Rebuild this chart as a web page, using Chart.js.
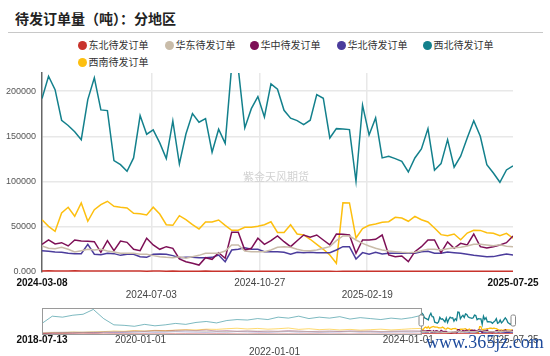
<!DOCTYPE html>
<html><head><meta charset="utf-8">
<script src="https://cdn.jsdelivr.net/npm/chart.js@4/dist/chart.umd.min.js"></script>
<style>
body{margin:0;background:#fff;}
#wrap{position:relative;width:550px;height:356px;overflow:hidden;font-family:"Noto Sans CJK SC","Noto Sans",sans-serif;}
#title{position:absolute;left:15px;top:8px;font-size:14px;font-weight:bold;color:#222;line-height:20px;white-space:nowrap;}
#rule{position:absolute;left:8px;top:32px;width:535px;height:1px;background:#c8c8c8;}
.lg{position:absolute;font-size:10px;color:#333;line-height:12px;white-space:nowrap;}
.lg i{display:inline-block;width:9px;height:9px;border-radius:50%;vertical-align:-1px;margin-right:2px;}
canvas{position:absolute;left:0;}
#main{top:0;}
#nav{top:300px;}
#wm1{position:absolute;left:243px;top:168px;font-size:11px;color:#d2d2d2;white-space:nowrap;}
#wm2{position:absolute;left:426px;top:332px;font-size:18px;color:#1d4a9c;font-family:"Liberation Serif",serif;white-space:nowrap;}
</style></head>
<body>
<div id="wrap">
<div id="title">待发订单量（吨）：分地区</div>
<div id="rule"></div>
<div id="legend"></div>
<canvas id="main" width="550" height="302"></canvas>
<canvas id="nav" width="550" height="56"></canvas>
<div id="wm1">紫金天风期货</div>
<div id="wm2">www.365jz.com</div>
</div>
<script>
// ---- categories (weekly dates) ----
const weeks = ["2024-03-08","2024-03-15","2024-03-22","2024-03-29","2024-04-05","2024-04-12","2024-04-19","2024-04-26",
"2024-05-03","2024-05-10","2024-05-17","2024-05-24","2024-05-31","2024-06-07","2024-06-14","2024-06-21","2024-06-28",
"2024-07-05","2024-07-12","2024-07-19","2024-07-26","2024-08-02","2024-08-09","2024-08-16","2024-08-23","2024-08-30",
"2024-09-06","2024-09-13","2024-09-20","2024-09-27","2024-10-04","2024-10-11","2024-10-18","2024-10-25",
"2024-11-01","2024-11-08","2024-11-15","2024-11-22","2024-11-29","2024-12-06","2024-12-13","2024-12-20","2024-12-27",
"2025-01-03","2025-01-10","2025-01-17","2025-01-24","2025-01-31","2025-02-07","2025-02-14","2025-02-21","2025-02-28",
"2025-03-07","2025-03-14","2025-03-21","2025-03-28","2025-04-04","2025-04-11","2025-04-18","2025-04-25",
"2025-05-02","2025-05-09","2025-05-16","2025-05-23","2025-05-30","2025-06-06","2025-06-13","2025-06-20","2025-06-27",
"2025-07-04","2025-07-11","2025-07-18","2025-07-25"];

// ---- series values (tons) ----
const northeast = [1200,1300,1200,1100,1200,1300,1200,1100,1000,1100,1200,1100,1000,1000,1100,1000,900,1000,1000,900,1000,900,900,800,900,1000,900,900,800,900,1000,900,800,900,900,800,900,800,800,900,800,800,700,800,700,600,800,900,700,800,800,900,800,700,800,800,900,800,700,800,800,700,800,800,700,800,700,800,800,700,800,800,700];
const eastChina = [28800,26200,25800,27300,25100,22100,23600,25100,24300,25100,23200,22100,20700,20700,20700,19600,19600,18100,16900,16200,15800,16900,15200,16900,18400,20700,20700,20700,23200,29900,29900,23200,22500,22500,22500,24300,27300,28000,27300,25100,23600,23600,24300,26200,28000,34600,39800,39800,35400,31700,28800,26200,24300,23200,22500,21800,21400,21800,23600,25100,25100,24300,25800,26900,27300,28800,30600,30600,29900,29000,30000,28500,28000];
const central = [30600,35400,31000,32400,28800,35400,34300,34000,33500,21800,34600,23600,34300,32800,25100,23600,37300,29900,25100,28000,26200,14400,11400,9600,7700,15800,14000,21300,15200,43900,43900,24300,26200,37300,30600,34600,39800,33500,28000,34600,40900,38400,40900,35400,29900,42000,41700,40900,20700,35400,35400,36200,40900,18800,16900,17700,11400,22500,28000,35400,35400,21300,33200,26200,31700,29900,42000,28000,26500,28000,29900,32400,39800];
const northChina = [23600,22900,22100,21800,20700,20300,20300,30600,19600,19200,20700,20300,18400,19600,19600,16900,16200,19600,19900,19600,18100,15800,16200,16200,15800,15800,16200,18800,11400,24300,25100,26900,25100,25100,22500,22500,22500,21800,19600,21800,21400,21800,21400,21400,21400,24300,28000,28000,14400,21400,19600,21800,19900,20700,20700,20700,20700,20700,22500,22900,20700,20700,22100,21400,20700,19600,18400,17700,16900,17000,18500,19900,18800];
const northwest = [191700,216400,201600,167800,162000,155000,146300,190600,214600,179200,178400,123100,118700,111400,126100,172900,152300,157100,142700,125300,167000,119400,152600,175100,165600,169500,132400,157800,142300,228000,225000,159300,180600,193900,171400,207900,202000,178800,170000,167300,162900,167800,196100,192100,148200,158500,158000,157400,100300,184400,151500,170300,126100,128000,125300,122400,110600,126100,136000,158500,112500,119800,146300,115800,128000,148200,167300,150100,118700,109500,99200,112800,117200];
const southwest = [57800,50500,45000,65300,71600,61600,76300,56100,68900,74400,78200,72700,71600,70800,64900,64500,63000,71600,64100,52300,51600,62300,57800,52300,47600,55300,55300,57500,51600,46100,46100,49400,49400,50500,52300,55500,43700,43700,52200,42000,41000,36200,30600,25100,18800,9600,76500,76300,37600,47900,51600,53100,55000,55600,60500,59700,56100,61600,57800,55300,48700,41300,40100,42000,35700,43100,46100,46000,43500,42800,40100,42800,37300];

// ---- navigator history (every 8 weeks from 2018-07-13 to 2024-01) ----
const histNortheast = [5000,8000,6000,4000,5000,7000,3000,5000,6000,4000,5000,3000,4000,6000,5000,4000,3000,5000,4000,3000,2000,4000,3000,2000,3000,2000,3000,2000,1000,2000,1000,2000,1000,1000,1000,1000,1000];
const histEast = [15000,18000,20000,22000,18000,25000,20000,28000,25000,22000,30000,28000,25000,30000,35000,32000,28000,30000,25000,28000,30000,32000,28000,25000,30000,28000,25000,22000,28000,30000,25000,28000,22000,25000,28000,30000,28000];
const histCentral = [5000,8000,10000,12000,15000,10000,18000,20000,25000,30000,28000,35000,32000,38000,40000,35000,42000,30000,35000,28000,32000,25000,30000,28000,35000,30000,25000,28000,30000,25000,32000,28000,30000,25000,28000,30000,32000];
const histNorth = [10000,12000,15000,12000,18000,15000,20000,18000,15000,20000,22000,18000,20000,25000,22000,20000,18000,22000,20000,25000,22000,20000,18000,22000,25000,20000,22000,18000,20000,22000,25000,20000,22000,18000,20000,22000,20000];
const histNorthwest = [110000,185000,175000,195000,205000,255000,160000,95000,90000,80000,100000,85000,95000,110000,100000,120000,130000,115000,140000,150000,145000,160000,150000,175000,165000,185000,160000,175000,165000,180000,155000,170000,160000,150000,165000,155000,170000];
const histSouthwest = [10000,15000,12000,20000,18000,22000,25000,30000,28000,35000,30000,38000,35000,40000,45000,42000,50000,48000,55000,60000,52000,58000,50000,55000,62000,48000,55000,45000,50000,42000,48000,40000,45000,50000,42000,48000,55000];

// ---- names, colours, tick labels ----
const names = ["东北待发订单","华东待发订单","华中待发订单","华北待发订单","西北待发订单","西南待发订单"];
const colors = ["#c8332c","#c9bca9","#7d0f56","#4b3c9c","#13808c","#fdbf0f"];
const fadedColors = ["rgba(200,51,44,0.4)","rgba(201,188,169,0.6)","rgba(125,15,86,0.4)","rgba(75,60,156,0.4)","rgba(19,128,140,0.55)","rgba(253,191,15,0.6)"];
const yTicks = [0,50000,100000,150000,200000];
const yTickLabels = ["0.000","50000","100000","150000","200000"];
const mainTickLabels = ["2024-03-08","2024-07-03","2024-10-27","2025-02-19","2025-07-25"];
const mainTickRows = [1,2,1,2,1];
const navTickLabels = ["2018-07-13","2020-01-01","2022-01-01","2024-01-01","2025-07-25"];
const navTickRows = [1,1,2,1,1];
const historyStart = "2018-07-13";
const historyStepDays = 56;

const mainSeries = [northeast,eastChina,central,northChina,northwest,southwest];
const histSeries = [histNortheast,histEast,histCentral,histNorth,histNorthwest,histSouthwest];

const DAY = 864e5;
const dayOf = (d, base) => Math.round((Date.parse(d) - Date.parse(base)) / DAY);
const weekX = weeks.map(d => dayOf(d, weeks[0]));
const mainTickDays = mainTickLabels.map(d => dayOf(d, weeks[0]));
const navTickDays = navTickLabels.map(d => dayOf(d, historyStart));
const navOffset = dayOf(weeks[0], historyStart);
const navEnd = dayOf(weeks[weeks.length-1], historyStart);

// legend (HTML)
const legendPos = [[82,45],[169,45],[254,45],[341,45],[427,45],[82,61.5]];
const lg = document.getElementById('legend');
names.forEach((n,i)=>{
  const d=document.createElement('div'); d.className='lg';
  d.style.left=(legendPos[i][0]-4.5)+'px'; d.style.top=(legendPos[i][1]-6)+'px';
  d.innerHTML='<i style="background:'+colors[i]+'"></i>'+n; lg.appendChild(d);
});

const edgeIdx = (c, n) => c.index === 0 || c.index === n - 1;

new Chart(document.getElementById('main'), {
  type:'line',
  data:{datasets: mainSeries.map((vals,si)=>({
    label:names[si], data: vals.map((v,i)=>({x:weekX[i], y:v})),
    borderColor:colors[si], backgroundColor:colors[si], borderWidth:1.5, pointRadius:0, tension:0, fill:false
  }))},
  options:{
    responsive:false, animation:false,
    layout:{padding:{top:73,right:37,left:0,bottom:0}},
    plugins:{legend:{display:false},tooltip:{enabled:false}},
    scales:{
      x:{type:'linear', min:0, max:mainTickDays[mainTickDays.length-1],
        afterBuildTicks:(ax)=>{ ax.ticks = mainTickDays.map(v=>({value:v})); },
        afterFit:(ax)=>{ ax.height = 30; },
        grid:{drawTicks:false, lineWidth:1.5, color:(c)=> edgeIdx(c, mainTickDays.length) ? 'rgba(0,0,0,0)' : '#e8e8e8'},
        border:{display:false},
        ticks:{autoSkip:false, maxRotation:0, padding:5,
          callback:(v,i)=> mainTickRows[i]===1 ? [mainTickLabels[i]] : ['', mainTickLabels[i]],
          font:(c)=>({family:'Liberation Sans', size:10, lineHeight:1.2, weight: edgeIdx(c, mainTickDays.length) ? 'bold' : 'normal'}),
          color:(c)=> edgeIdx(c, mainTickDays.length) ? '#111' : '#444'}
      },
      y:{min:0, max:220000,
        afterBuildTicks:(ax)=>{ ax.ticks = yTicks.map(v=>({value:v})); },
        afterFit:(ax)=>{ ax.width = 42; },
        grid:{drawTicks:false, lineWidth:1.5, color:(c)=> c.index===0 ? 'rgba(0,0,0,0)' : '#e8e8e8'},
        border:{display:true, color:'#666', width:1.5},
        ticks:{autoSkip:false, padding:6, callback:(v,i)=> yTickLabels[i],
          font:{family:'Liberation Sans', size:9}, color:'#555'}
      }
    }
  }
});

const navBox = {
  id:'navBox',
  afterDatasetsDraw(chart){
    const {ctx, chartArea:{left,right,top,bottom}, scales:{x}} = chart;
    const sx = x.getPixelForValue(navOffset);
    ctx.save();
    ctx.strokeStyle='#9a9a9a'; ctx.lineWidth=1;
    ctx.strokeRect(Math.round(left)+0.5, Math.round(top)+0.5, Math.round(sx-left), Math.round(bottom-top));
    [sx, right].forEach(px=>{
      ctx.beginPath();
      ctx.roundRect(Math.round(px)-2, top+7, 4.5, 11, 1.5);
      ctx.fillStyle='#fff'; ctx.fill();
      ctx.strokeStyle='#888'; ctx.stroke();
    });
    ctx.restore();
  }
};

const navDatasets = [];
histSeries.forEach((vals,si)=>{
  const pts = vals.map((v,i)=>({x:i*historyStepDays, y:v}));
  pts.push({x:navOffset, y:mainSeries[si][0]});
  navDatasets.push({data:pts, borderColor:fadedColors[si], borderWidth:1, pointRadius:0, tension:0});
});
mainSeries.forEach((vals,si)=>{
  navDatasets.push({data: vals.map((v,i)=>({x:navOffset+weekX[i], y:v})), borderColor:colors[si], borderWidth:1.3, pointRadius:0, tension:0});
});

new Chart(document.getElementById('nav'), {
  type:'line',
  data:{datasets:navDatasets},
  options:{
    responsive:false, animation:false,
    layout:{padding:{top:8,left:42,right:37,bottom:0}},
    plugins:{legend:{display:false},tooltip:{enabled:false}},
    scales:{
      x:{type:'linear', min:0, max:navEnd,
        afterBuildTicks:(ax)=>{ ax.ticks = navTickDays.map(v=>({value:v})); },
        afterFit:(ax)=>{ ax.height = 22; },
        grid:{display:false, drawTicks:false},
        border:{display:false},
        ticks:{autoSkip:false, maxRotation:0, padding:0,
          callback:(v,i)=> navTickRows[i]===1 ? [navTickLabels[i]] : ['', navTickLabels[i]],
          font:(c)=>({family:'Liberation Sans', size:10, lineHeight:1.2, weight: c.index===0 ? 'bold' : 'normal'}),
          color:(c)=> c.index===0 ? '#111' : '#444'}
      },
      y:{display:false, min:0, max:270000}
    }
  },
  plugins:[navBox]
});
</script>
</body></html>
